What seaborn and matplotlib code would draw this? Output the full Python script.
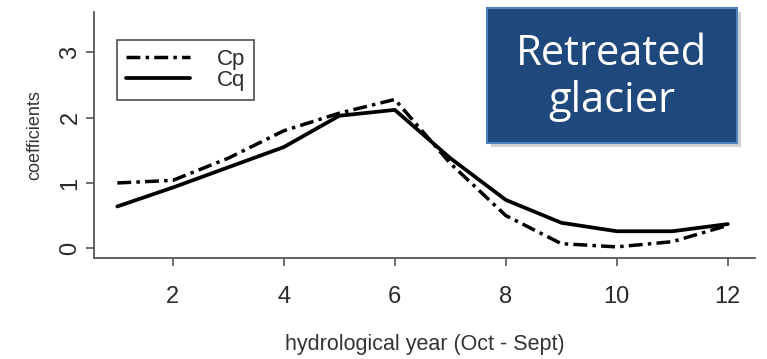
import matplotlib
matplotlib.use("Agg")
import matplotlib.pyplot as plt
import seaborn as sns
import pandas as pd
from matplotlib.patches import Rectangle
from matplotlib.lines import Line2D

months = [1, 2, 3, 4, 5, 6, 7, 8, 9, 10, 11, 12]
cp = [1.00, 1.04, 1.38, 1.80, 2.07, 2.28, 1.30, 0.50, 0.07, 0.02, 0.10, 0.35]
cq = [0.64, 0.93, 1.24, 1.55, 2.03, 2.12, 1.38, 0.74, 0.39, 0.26, 0.26, 0.37]
x_ticks = [2, 4, 6, 8, 10, 12]
y_ticks = [0, 1, 2, 3]
series_names = ["Cp", "Cq"]
xlabel = "hydrological year (Oct - Sept)"
ylabel = "coefficients"
box_text = "Retreated\nglacier"

sns.set_theme(style="white")
plt.rcParams['font.family'] = ['Liberation Sans', 'DejaVu Sans']

df = pd.DataFrame({"month": months * 2,
                   "value": cp + cq,
                   "series": [series_names[0]] * len(months) + [series_names[1]] * len(months)})

fig = plt.figure(figsize=(7.67, 3.59), dpi=100)
ax = fig.add_axes([94 / 767, 1 - 258 / 359, (755 - 94) / 767, (258 - 12) / 359])

sns.lineplot(data=df, x="month", y="value", hue="series", style="series",
             palette={"Cp": "black", "Cq": "black"},
             dashes={"Cp": (4, 1.5, 1, 1.5), "Cq": ""},
             linewidth=2.7, ax=ax, legend=False)
ax.lines[0].set_linewidth(2.5)

ax.set_xlim(0.58, 12.49)
ax.set_ylim(-0.15, 3.62)
ax.set_xticks(x_ticks)
ax.set_yticks(y_ticks)
for s in ["top", "right"]:
    ax.spines[s].set_visible(False)
for s in ["left", "bottom"]:
    ax.spines[s].set_color("#555555")
    ax.spines[s].set_linewidth(1.3)
ax.tick_params(axis="both", which="both", direction="out", length=6, width=1.2,
               color="#555555", labelsize=17, labelcolor="#2a2a2a", left=True, bottom=True)
ax.tick_params(axis="x", pad=14)
ax.tick_params(axis="y", pad=3)
for lab in ax.get_yticklabels():
    lab.set_rotation(90)
    lab.set_va("center")
ax.set_xlabel(xlabel, fontsize=15.5, color="#333333", labelpad=19)
ax.set_ylabel(ylabel, fontsize=13, color="#333333", labelpad=12)

# legend
handles = [Line2D([], [], color="black", lw=2.5, dashes=(4, 1.5, 1, 1.5)),
           Line2D([], [], color="black", lw=2.7)]
leg = ax.legend(handles, series_names, loc="upper left", bbox_to_anchor=(23 / 661, 1 - 28 / 246),
                frameon=True, fancybox=False, fontsize=16, handlelength=2.9,
                handletextpad=1.2, labelspacing=0.0, borderpad=0.4, borderaxespad=0)
leg.get_frame().set_edgecolor("#333333")
leg.get_frame().set_linewidth(1.3)
for t in leg.get_texts():
    t.set_color("#2a2a2a")

# annotation box with shadow
W, H = 767, 359
bx0, bx1, by0, by1 = 487, 737, 8, 143
shadow = Rectangle(((bx0 + 4) / W, 1 - (by1 + 4) / H), (bx1 - bx0) / W, (by1 - by0) / H,
                   transform=fig.transFigure, facecolor="#999999", alpha=0.45, edgecolor="none")
fig.patches.append(shadow)
box = Rectangle((bx0 / W, 1 - by1 / H), (bx1 - bx0) / W, (by1 - by0) / H,
                transform=fig.transFigure, facecolor="#1F497D", edgecolor="#4F81BD", linewidth=1.5)
fig.patches.append(box)
fig.text((bx0 + bx1) / 2 / W, 1 - (by0 + by1 + 4) / 2 / H, box_text, color="white",
         fontsize=30, family=["Open Sans", "DejaVu Sans"], ha="center", va="center",
         linespacing=1.15)

fig.savefig("out.png", dpi=100)
